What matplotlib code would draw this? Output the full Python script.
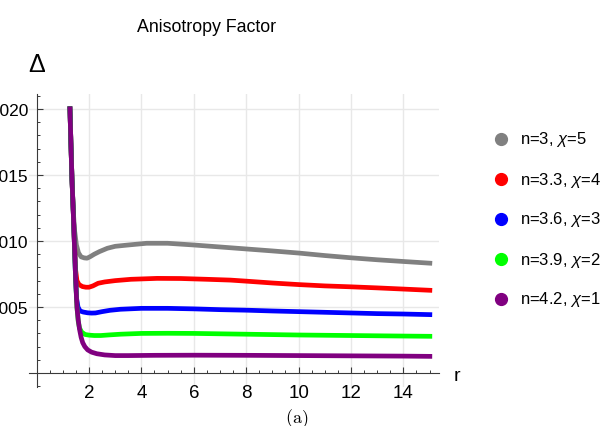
import matplotlib
matplotlib.use('Agg')
import matplotlib.pyplot as plt
from matplotlib.lines import Line2D
from matplotlib.ticker import FixedLocator, FormatStrFormatter

plt.rcParams['font.family'] = ['Liberation Sans', 'DejaVu Sans']
plt.rcParams['mathtext.fontset'] = 'custom'
plt.rcParams['mathtext.rm'] = 'Liberation Sans'
plt.rcParams['mathtext.it'] = 'Liberation Sans:italic'

# ---------------------------------------------------------------
# Anisotropy factor curves, Delta(r)
# ---------------------------------------------------------------
r_gray = [1.27, 1.31, 1.35, 1.40, 1.45, 1.52, 1.60, 1.70, 1.82, 1.93, 2.05, 2.2, 2.4,
          2.7, 3.0, 3.5, 4.2, 5.0, 6.0, 7.0, 8.0, 9.0, 10.0, 11.0, 12.0, 13.0, 14.0, 15.1]
d_gray = [0.0202, 0.0174, 0.0147, 0.0123, 0.0108, 0.0097, 0.0091, 0.0088, 0.00872, 0.0087,
          0.00882, 0.0090, 0.0092, 0.00945, 0.0096, 0.0097, 0.00983, 0.00983, 0.0097,
          0.00955, 0.0094, 0.00925, 0.00909, 0.0089, 0.00873, 0.00858, 0.00845, 0.00831]

r_red = [1.27, 1.31, 1.35, 1.40, 1.44, 1.49, 1.54, 1.62, 1.75, 1.88, 2.0, 2.15, 2.35,
         2.6, 3.0, 3.6, 4.6, 5.5, 6.5, 7.4, 8.0, 9.0, 10.0, 11.0, 12.0, 13.0, 14.0, 15.1]
d_red = [0.0202, 0.0174, 0.0147, 0.0122, 0.0100, 0.0078, 0.0070, 0.0067, 0.00655, 0.0065,
         0.0065, 0.0066, 0.0068, 0.0069, 0.0070, 0.0071, 0.00717, 0.00716, 0.0071, 0.00704,
         0.00696, 0.00682, 0.0067, 0.0066, 0.00653, 0.00645, 0.00636, 0.00626]

r_blue = [1.27, 1.31, 1.35, 1.40, 1.44, 1.49, 1.53, 1.58, 1.66, 1.78, 1.95, 2.1, 2.25,
          2.5, 2.8, 3.2, 4.0, 5.0, 6.0, 7.0, 8.0, 9.0, 10.0, 11.0, 12.0, 13.0, 14.0, 15.1]
d_blue = [0.0202, 0.0174, 0.0147, 0.0122, 0.0100, 0.0071, 0.0056, 0.0050, 0.0047, 0.00462,
          0.00456, 0.00454, 0.00455, 0.00465, 0.00475, 0.00483, 0.0049, 0.0049, 0.00486,
          0.0048, 0.00476, 0.0047, 0.00465, 0.0046, 0.00455, 0.0045, 0.00447, 0.00442]

r_green = [1.27, 1.31, 1.35, 1.40, 1.44, 1.49, 1.54, 1.59, 1.64, 1.72, 1.85, 2.0, 2.2,
           2.45, 2.8, 3.2, 4.0, 5.0, 6.0, 7.0, 8.0, 10.0, 12.0, 14.0, 15.1]
d_green = [0.0202, 0.0174, 0.0147, 0.0122, 0.0100, 0.0071, 0.0050, 0.0039, 0.0034, 0.0031,
           0.00292, 0.00287, 0.00284, 0.00284, 0.00289, 0.00294, 0.0030, 0.00301, 0.0030,
           0.00297, 0.00294, 0.00288, 0.00284, 0.0028, 0.00278]

r_purple = [1.27, 1.31, 1.35, 1.40, 1.44, 1.49, 1.54, 1.59, 1.64, 1.70, 1.76, 1.84, 1.95,
            2.1, 2.3, 2.6, 3.0, 3.5, 4.5, 6.0, 8.0, 10.0, 12.0, 14.0, 15.1]
d_purple = [0.0202, 0.0174, 0.0147, 0.0122, 0.0100, 0.0071, 0.0050, 0.0040, 0.0033, 0.0027,
            0.0023, 0.0020, 0.00175, 0.00158, 0.00146, 0.00137, 0.00132, 0.00132, 0.00134,
            0.00135, 0.00134, 0.00132, 0.0013, 0.00128, 0.00126]

labels = ['n=3, $\\chi$=5', 'n=3.3, $\\chi$=4', 'n=3.6, $\\chi$=3',
          'n=3.9, $\\chi$=2', 'n=4.2, $\\chi$=1']
colors = ['#808080', '#ff0000', '#0000ff', '#00ff00', '#800080']
series = [(r_gray, d_gray), (r_red, d_red), (r_blue, d_blue),
          (r_green, d_green), (r_purple, d_purple)]

x_major = [2, 4, 6, 8, 10, 12, 14]
x_minor = [i * 0.5 for i in range(1, 31)]
y_major = [0.005, 0.010, 0.015, 0.020]
y_minor = [i * 0.001 for i in range(-1, 22)]

W, H = 613, 427
fig = plt.figure(figsize=(W / 100, H / 100), dpi=100)
ax = fig.add_axes([29 / W, 1 - 388 / H, 410 / W, 293 / H])
ax.set_xlim(-0.29, 15.36)
ax.set_ylim(-0.00106, 0.02114)

for (rr, dd), c in zip(series, colors):
    ax.plot(rr, dd, color=c, lw=3.4, solid_capstyle='butt', solid_joinstyle='round', zorder=3)

# axes crossing at the origin
for s in ['top', 'right']:
    ax.spines[s].set_visible(False)
ax.spines['left'].set_position(('data', 0))
ax.spines['bottom'].set_position(('data', 0))
for s in ['left', 'bottom']:
    ax.spines[s].set_color('#3a3a3a')
    ax.spines[s].set_linewidth(0.8)

ax.xaxis.set_major_locator(FixedLocator(x_major))
ax.xaxis.set_minor_locator(FixedLocator(x_minor))
ax.yaxis.set_major_locator(FixedLocator(y_major))
ax.yaxis.set_minor_locator(FixedLocator(y_minor))
ax.yaxis.set_major_formatter(FormatStrFormatter('%.3f'))

ax.tick_params(axis='both', which='major', direction='in', length=4, width=0.8, color='#3a3a3a')
ax.tick_params(axis='both', which='minor', direction='in', length=2.2, width=0.7, color='#3a3a3a')
ax.tick_params(axis='x', which='major', labelsize=13.5, pad=8)
ax.tick_params(axis='y', which='major', labelsize=12.5, pad=6)

ax.grid(True, which='major', color='#e8e8e8', lw=1.0, zorder=0)
ax.set_axisbelow(True)

# labels and title
fig.text(207 / W, 1 - 28 / H, 'Anisotropy Factor', fontsize=12.8, ha='center', va='center')
fig.text(37 / W, 1 - 65 / H, '\u0394', fontsize=18, ha='center', va='center')
fig.text(457 / W, 1 - 377 / H, 'r', fontsize=14, ha='center', va='center')
fig.text(296.5 / W, 1 - 419 / H, r'$\mathrm{(a)}$', math_fontfamily='cm',
         fontsize=13, ha='center', va='center')

# legend
for i, (lab, c) in enumerate(zip(labels, colors)):
    yy = 1 - (140 + 40 * i) / H
    fig.add_artist(Line2D([501 / W], [yy], marker='o', markersize=8.5, color=c,
                          linestyle='', transform=fig.transFigure))
    fig.text(520 / W, yy, lab, fontsize=12, ha='left', va='center')

fig.savefig('out.png', dpi=100)
